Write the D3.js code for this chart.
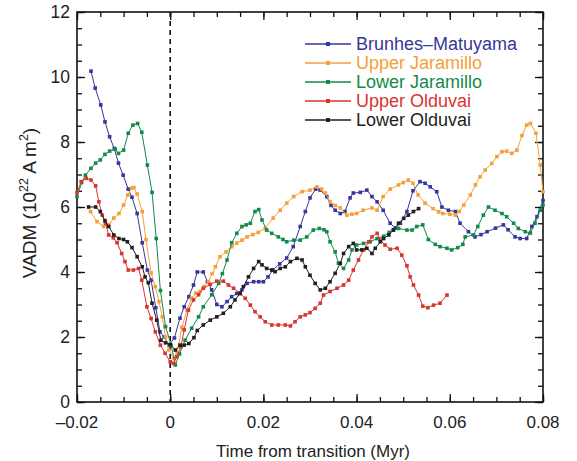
<!DOCTYPE html>
<html><head><meta charset="utf-8">
<script src="https://cdn.jsdelivr.net/npm/d3@7"></script>
<style>body{margin:0;background:#fff}svg{display:block}text{font-family:"Liberation Sans",Arial,Helvetica,sans-serif}</style>
</head><body><svg id="c" width="577" height="461"></svg>
<script>
// time (Myr), VADM (10^22 A m^2)
const seriesNames = ["Brunhes–Matuyama","Upper Jaramillo","Lower Jaramillo","Upper Olduvai","Lower Olduvai"];
const seriesColors = ["#36379a","#f5a03a","#138a4c","#d8352f","#231f20"];
const xTicks = [-0.02,0,0.02,0.04,0.06,0.08];
const xTickLabels = ["–0.02","0","0.02","0.04","0.06","0.08"];
const yTicks = [0,2,4,6,8,10,12];

const brunhesMatuyama = [
[-0.0170,10.18],[-0.0161,9.66],[-0.0149,9.14],[-0.0140,8.62],[-0.0130,8.16],[-0.0120,7.80],[-0.0111,7.35],[-0.0101,6.98],[-0.0090,6.55],[-0.0082,6.30],[-0.0071,5.80],[-0.0060,4.90],[-0.0049,4.06],[-0.0041,3.75],[-0.0031,2.90],[-0.0022,2.16],[-0.0013,2.00],[-0.0003,1.75],[0.0009,1.97],[0.0021,2.58],[0.0030,2.93],[0.0040,3.24],[0.0050,3.60],[0.0058,4.00],[0.0071,4.00],[0.0080,3.70],[0.0089,3.45],[0.0100,3.00],[0.0111,2.93],[0.0122,3.09],[0.0132,3.24],[0.0143,3.34],[0.0154,3.45],[0.0165,3.65],[0.0179,3.70],[0.0190,3.70],[0.0200,3.70],[0.0210,3.85],[0.0220,4.06],[0.0235,4.25],[0.0250,4.43],[0.0264,4.78],[0.0279,5.40],[0.0290,5.86],[0.0300,6.28],[0.0312,6.55],[0.0322,6.52],[0.0336,6.32],[0.0345,6.05],[0.0354,5.90],[0.0365,5.80],[0.0375,5.86],[0.0386,6.28],[0.0393,6.43],[0.0408,6.45],[0.0422,6.52],[0.0433,6.32],[0.0444,6.16],[0.0457,5.90],[0.0472,5.50],[0.0483,5.35],[0.0494,5.50],[0.0508,5.86],[0.0521,6.50],[0.0536,6.78],[0.0547,6.73],[0.0558,6.62],[0.0572,6.47],[0.0583,6.00],[0.0597,5.90],[0.0612,5.86],[0.0622,5.50],[0.0640,5.24],[0.0654,5.08],[0.0667,5.15],[0.0680,5.24],[0.0698,5.35],[0.0715,5.45],[0.0725,5.30],[0.0740,5.08],[0.0751,5.03],[0.0765,5.03],[0.0776,5.40],[0.0787,5.70],[0.0800,6.20]];

const upperJaramillo = [
[-0.0171,5.86],[-0.0157,5.55],[-0.0143,5.40],[-0.0132,5.45],[-0.0121,5.66],[-0.0110,5.80],[-0.0100,6.06],[-0.0091,6.37],[-0.0083,6.58],[-0.0078,6.60],[-0.0071,6.40],[-0.0060,5.86],[-0.0052,5.00],[-0.0041,3.97],[-0.0032,3.55],[-0.0024,3.09],[-0.0017,2.62],[-0.0010,2.00],[-0.0003,1.60],[0.0008,1.34],[0.0015,1.50],[0.0025,2.30],[0.0036,2.83],[0.0046,3.20],[0.0055,3.35],[0.0064,3.40],[0.0073,3.55],[0.0082,3.70],[0.0090,3.95],[0.0097,4.16],[0.0107,4.47],[0.0120,4.62],[0.0132,4.78],[0.0143,4.89],[0.0154,4.98],[0.0165,5.08],[0.0177,5.15],[0.0189,5.22],[0.0204,5.35],[0.0221,5.66],[0.0236,5.90],[0.0250,6.12],[0.0265,6.32],[0.0283,6.47],[0.0300,6.52],[0.0315,6.62],[0.0325,6.55],[0.0333,6.43],[0.0343,6.16],[0.0354,6.05],[0.0365,5.97],[0.0379,5.75],[0.0390,5.78],[0.0400,5.80],[0.0414,5.90],[0.0433,5.97],[0.0444,5.90],[0.0457,6.32],[0.0472,6.55],[0.0490,6.68],[0.0500,6.75],[0.0511,6.83],[0.0521,6.73],[0.0532,6.37],[0.0547,6.12],[0.0564,5.95],[0.0576,5.85],[0.0585,5.80],[0.0600,5.78],[0.0612,5.75],[0.0620,5.86],[0.0630,6.06],[0.0644,6.37],[0.0655,6.68],[0.0665,6.93],[0.0676,7.14],[0.0690,7.34],[0.0701,7.55],[0.0712,7.70],[0.0722,7.72],[0.0733,7.65],[0.0744,7.75],[0.0755,8.20],[0.0765,8.52],[0.0773,8.57],[0.0785,8.27],[0.0794,7.29],[0.0800,6.47]];

const lowerJaramillo = [
[-0.0200,6.32],[-0.0190,6.75],[-0.0182,6.98],[-0.0170,7.19],[-0.0160,7.35],[-0.0150,7.45],[-0.0140,7.62],[-0.0130,7.72],[-0.0118,7.78],[-0.0111,7.65],[-0.0100,7.75],[-0.0090,8.27],[-0.0080,8.52],[-0.0070,8.57],[-0.0061,8.30],[-0.0049,7.29],[-0.0039,6.45],[-0.0030,5.03],[-0.0021,3.43],[-0.0010,2.32],[0.0002,1.75],[0.0011,1.14],[0.0020,1.48],[0.0032,1.90],[0.0046,2.27],[0.0061,2.62],[0.0071,2.93],[0.0089,3.30],[0.0104,3.65],[0.0112,3.95],[0.0122,4.37],[0.0132,4.90],[0.0143,5.19],[0.0154,5.40],[0.0163,5.45],[0.0172,5.50],[0.0182,5.86],[0.0190,5.92],[0.0197,5.60],[0.0207,5.29],[0.0218,5.19],[0.0232,5.08],[0.0242,5.00],[0.0250,4.93],[0.0265,4.98],[0.0279,4.98],[0.0293,5.08],[0.0307,5.29],[0.0320,5.34],[0.0330,5.30],[0.0336,5.24],[0.0343,4.93],[0.0354,4.62],[0.0361,4.27],[0.0372,4.11],[0.0383,4.37],[0.0390,4.68],[0.0400,4.83],[0.0415,4.88],[0.0429,4.93],[0.0444,5.03],[0.0458,5.10],[0.0470,5.22],[0.0479,5.29],[0.0490,5.34],[0.0508,5.29],[0.0519,5.29],[0.0529,5.40],[0.0542,5.45],[0.0554,5.00],[0.0569,4.85],[0.0579,4.78],[0.0594,4.73],[0.0604,4.68],[0.0617,4.75],[0.0628,4.85],[0.0633,5.08],[0.0651,5.14],[0.0660,5.40],[0.0672,5.75],[0.0683,6.00],[0.0697,5.90],[0.0712,5.80],[0.0722,5.70],[0.0737,5.50],[0.0747,5.34],[0.0762,5.24],[0.0773,5.20],[0.0783,5.50],[0.0794,5.90],[0.0800,6.06]];

const upperOlduvai = [
[-0.0200,6.44],[-0.0191,6.78],[-0.0180,6.88],[-0.0170,6.83],[-0.0160,6.65],[-0.0153,6.16],[-0.0146,5.75],[-0.0139,5.50],[-0.0132,5.14],[-0.0122,5.05],[-0.0114,4.90],[-0.0104,4.57],[-0.0097,4.32],[-0.0090,4.06],[-0.0079,4.06],[-0.0068,4.11],[-0.0061,3.75],[-0.0050,2.93],[-0.0041,2.57],[-0.0032,2.16],[-0.0021,1.75],[-0.0011,1.50],[0.0000,1.24],[0.0007,1.19],[0.0014,1.39],[0.0023,1.70],[0.0030,2.22],[0.0039,2.83],[0.0050,3.14],[0.0061,3.30],[0.0071,3.50],[0.0086,3.62],[0.0100,3.72],[0.0114,3.72],[0.0125,3.60],[0.0136,3.50],[0.0150,3.34],[0.0161,3.19],[0.0172,2.98],[0.0182,2.78],[0.0193,2.62],[0.0204,2.47],[0.0218,2.37],[0.0232,2.37],[0.0247,2.37],[0.0258,2.34],[0.0268,2.47],[0.0279,2.62],[0.0290,2.68],[0.0300,2.75],[0.0311,2.88],[0.0322,3.04],[0.0329,3.29],[0.0343,3.40],[0.0358,3.50],[0.0372,3.60],[0.0383,3.75],[0.0393,4.06],[0.0404,4.37],[0.0415,4.68],[0.0426,4.93],[0.0433,5.08],[0.0444,5.19],[0.0451,4.98],[0.0461,4.83],[0.0472,4.70],[0.0487,4.73],[0.0497,4.52],[0.0508,4.19],[0.0515,3.85],[0.0522,3.60],[0.0533,3.29],[0.0542,2.95],[0.0553,2.90],[0.0565,2.98],[0.0579,3.04],[0.0594,3.29]];

const lowerOlduvai = [
[-0.0175,6.00],[-0.0160,6.00],[-0.0150,5.86],[-0.0140,5.58],[-0.0132,5.40],[-0.0121,5.14],[-0.0110,5.03],[-0.0100,5.00],[-0.0092,4.93],[-0.0082,4.75],[-0.0071,4.47],[-0.0060,4.16],[-0.0054,3.85],[-0.0047,3.67],[-0.0039,3.04],[-0.0029,2.52],[-0.0020,1.90],[-0.0010,1.82],[0.0000,1.77],[0.0011,1.60],[0.0021,1.75],[0.0030,1.75],[0.0040,1.80],[0.0051,1.98],[0.0058,2.20],[0.0071,2.37],[0.0086,2.52],[0.0100,2.62],[0.0114,2.73],[0.0129,2.93],[0.0139,3.14],[0.0150,3.34],[0.0157,3.55],[0.0168,3.85],[0.0179,4.11],[0.0190,4.32],[0.0197,4.22],[0.0207,4.11],[0.0218,4.06],[0.0225,4.01],[0.0236,4.11],[0.0247,4.16],[0.0258,4.32],[0.0272,4.42],[0.0283,4.37],[0.0290,4.16],[0.0300,3.90],[0.0311,3.65],[0.0322,3.45],[0.0333,3.50],[0.0343,3.70],[0.0354,3.96],[0.0365,4.27],[0.0372,4.57],[0.0383,4.78],[0.0393,4.88],[0.0400,4.68],[0.0411,4.68],[0.0422,4.73],[0.0433,4.57],[0.0440,4.73],[0.0451,4.93],[0.0458,5.03],[0.0469,5.14],[0.0479,5.29],[0.0490,5.50],[0.0501,5.65],[0.0511,5.75],[0.0522,5.86],[0.0533,5.95]];

const allSeries = [brunhesMatuyama, upperJaramillo, lowerJaramillo, upperOlduvai, lowerOlduvai];

const svg = d3.select("#c");
const L=77, R=543, T=12, B=402;
const x = d3.scaleLinear().domain([-0.02,0.08]).range([L,R]);
const y = d3.scaleLinear().domain([0,12]).range([B,T]);

// dashed zero line
svg.append("line").attr("x1",x(0)).attr("x2",x(0)).attr("y1",T).attr("y2",B)
  .attr("stroke","#111").attr("stroke-width",1.6).attr("stroke-dasharray","5,4");

// axes with inward ticks
const minorX = d3.range(-0.02,0.0801,0.005);
const minorY = d3.range(0,12.01,0.5);
function tickAxis(g, axis){ g.call(axis); g.select(".domain").remove(); g.selectAll("line").attr("stroke","#111").attr("stroke-width",1.3); }
svg.append("g").attr("transform",`translate(0,${B})`).call(g=>tickAxis(g,d3.axisTop(x).tickValues(minorX).tickSize(5).tickFormat("")));
svg.append("g").attr("transform",`translate(0,${B})`).call(g=>tickAxis(g,d3.axisTop(x).tickValues(xTicks).tickSize(8).tickFormat("")));
svg.append("g").attr("transform",`translate(0,${T})`).call(g=>tickAxis(g,d3.axisBottom(x).tickValues(minorX).tickSize(5).tickFormat("")));
svg.append("g").attr("transform",`translate(0,${T})`).call(g=>tickAxis(g,d3.axisBottom(x).tickValues(xTicks).tickSize(8).tickFormat("")));
svg.append("g").attr("transform",`translate(${L},0)`).call(g=>tickAxis(g,d3.axisRight(y).tickValues(minorY).tickSize(5).tickFormat("")));
svg.append("g").attr("transform",`translate(${L},0)`).call(g=>tickAxis(g,d3.axisRight(y).tickValues(yTicks).tickSize(8).tickFormat("")));
svg.append("g").attr("transform",`translate(${R},0)`).call(g=>tickAxis(g,d3.axisLeft(y).tickValues(minorY).tickSize(5).tickFormat("")));
svg.append("g").attr("transform",`translate(${R},0)`).call(g=>tickAxis(g,d3.axisLeft(y).tickValues(yTicks).tickSize(8).tickFormat("")));

svg.append("rect").attr("x",L).attr("y",T).attr("width",R-L).attr("height",B-T)
  .attr("fill","none").attr("stroke","#111").attr("stroke-width",1.6);

// tick labels
svg.append("g").selectAll("text").data(xTicks).join("text")
  .attr("x",d=>x(d)).attr("y",B+26).attr("text-anchor","middle")
  .attr("font-size",17).attr("fill","#222").text((d,i)=>xTickLabels[i]);
svg.append("g").selectAll("text").data(yTicks).join("text")
  .attr("x",L-7).attr("y",d=>y(d)+6).attr("text-anchor","end")
  .attr("font-size",17.5).attr("fill","#222").text(d=>d);

// axis titles
svg.append("text").attr("x",(L+R)/2+3).attr("y",457).attr("text-anchor","middle")
  .attr("font-size",17).attr("fill","#222").text("Time from transition (Myr)");
const yt = svg.append("text").attr("transform",`translate(36,${(T+B)/2-4}) rotate(-90)`)
  .attr("text-anchor","middle").attr("font-size",19).attr("fill","#222");
yt.append("tspan").text("VADM (10");
yt.append("tspan").attr("font-size",12.5).attr("dy",-8).text("22");
yt.append("tspan").attr("dy",8).text(" A m");
yt.append("tspan").attr("font-size",12.5).attr("dy",-8).text("2");
yt.append("tspan").attr("dy",8).text(")");

// series
const line = d3.line().x(d=>x(d[0])).y(d=>y(d[1]));
allSeries.forEach((s,i)=>{
  const g = svg.append("g");
  g.append("path").datum(s).attr("d",line).attr("fill","none")
    .attr("stroke",seriesColors[i]).attr("stroke-width",1);
  g.selectAll("rect").data(s).join("rect")
    .attr("x",d=>x(d[0])-1.8).attr("y",d=>y(d[1])-1.8).attr("width",3.6).attr("height",3.6)
    .attr("fill",seriesColors[i]);
});

// legend
const lg = svg.append("g");
seriesNames.forEach((n,i)=>{
  const yy = 44 + i*19;
  lg.append("line").attr("x1",305).attr("x2",351).attr("y1",yy).attr("y2",yy)
    .attr("stroke",seriesColors[i]).attr("stroke-width",1.3);
  lg.append("rect").attr("x",328-2).attr("y",yy-2).attr("width",4).attr("height",4).attr("fill",seriesColors[i]);
  lg.append("text").attr("x",356).attr("y",yy+6).attr("font-size",18)
    .attr("fill",seriesColors[i]).text(n);
});
</script></body></html>
